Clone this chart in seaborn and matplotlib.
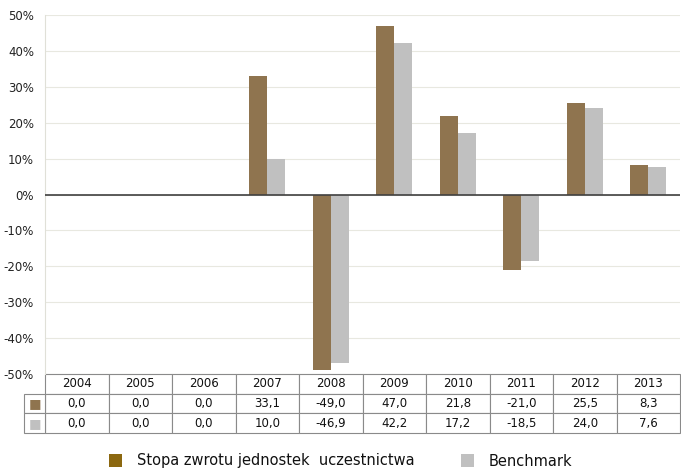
import matplotlib
matplotlib.use("Agg")
import matplotlib.pyplot as plt
from matplotlib.patches import Patch
from matplotlib.ticker import FuncFormatter
import pandas as pd
import seaborn as sns

sns.set_style("white")
plt.rcParams['font.family'] = ['DejaVu Sans']

# Data
years = ["2004", "2005", "2006", "2007", "2008", "2009", "2010", "2011", "2012", "2013"]
fund = [0.0, 0.0, 0.0, 33.1, -49.0, 47.0, 21.8, -21.0, 25.5, 8.3]
bench = [0.0, 0.0, 0.0, 10.0, -46.9, 42.2, 17.2, -18.5, 24.0, 7.6]
series_names = ["Stopa zwrotu jednostek  uczestnictwa", "Benchmark"]

bar_colors = ["#8F744F", "#C0C0C0"]
legend_colors = ["#8C6810", "#C0C0C0"]

df = pd.DataFrame({
    "year": years * 2,
    "value": fund + bench,
    "series": [series_names[0]] * len(years) + [series_names[1]] * len(years),
})

fig = plt.figure(figsize=(6.81, 4.74), dpi=100)
ax = fig.add_axes([45 / 681, 1 - 374 / 474, 635 / 681, 359 / 474])

sns.barplot(data=df, x="year", y="value", hue="series", palette=bar_colors,
            width=0.57, legend=False, saturation=1, linewidth=0,
            edgecolor="none", ax=ax)

ax.set_ylim(-50, 50)
ax.set_yticks(range(-50, 51, 10))
ax.yaxis.set_major_formatter(FuncFormatter(lambda v, p: f"{int(v)}%"))
ax.grid(axis="y", color="#E8E8E0", lw=0.8)
ax.set_axisbelow(True)
ax.axhline(0, color="#404040", lw=1.2, zorder=3)
ax.set_xlabel("")
ax.set_ylabel("")
ax.set_xticks([])
ax.tick_params(axis="y", length=5, color="#E0E0D8", labelsize=8.5, labelcolor="#222222", pad=3)
for s in ["top", "right", "bottom"]:
    ax.spines[s].set_visible(False)
ax.spines["left"].set_color("#E0E0D8")

# Data table below the axes
cell_text = [[f"{v:.1f}".replace(".", ",") for v in fund],
             [f"{v:.1f}".replace(".", ",") for v in bench]]
key_w = 21 / 635
tab_h = 59 / 359
tbl = ax.table(cellText=cell_text, colLabels=years, cellLoc="center",
               bbox=[0, -tab_h, 1, tab_h])
key = ax.table(cellText=[["\u25A0"], ["\u25A0"]], cellLoc="center",
               bbox=[-key_w, -tab_h, key_w, tab_h * 2 / 3])
for t in (tbl, key):
    t.auto_set_font_size(False)
    t.set_fontsize(8.5)
    for (r, c), cell in t.get_celld().items():
        cell.set_edgecolor("#8A8A8A")
        cell.set_linewidth(0.8)
        cell.get_text().set_color("#111111")
for r in range(2):
    key[r, 0].get_text().set_color(bar_colors[r])
    key[r, 0].get_text().set_fontsize(9.5)

# Legend
handles = [Patch(facecolor=legend_colors[i], edgecolor="none", label=series_names[i])
           for i in range(2)]
fig.legend(handles=handles, loc="center", bbox_to_anchor=(0.5, 1 - 461 / 474),
           ncol=2, frameon=False, fontsize=10.5, handlelength=0.9, handleheight=0.9,
           handletextpad=1.0, columnspacing=3.2, labelcolor="#111111")

fig.savefig("out.png", dpi=100)
